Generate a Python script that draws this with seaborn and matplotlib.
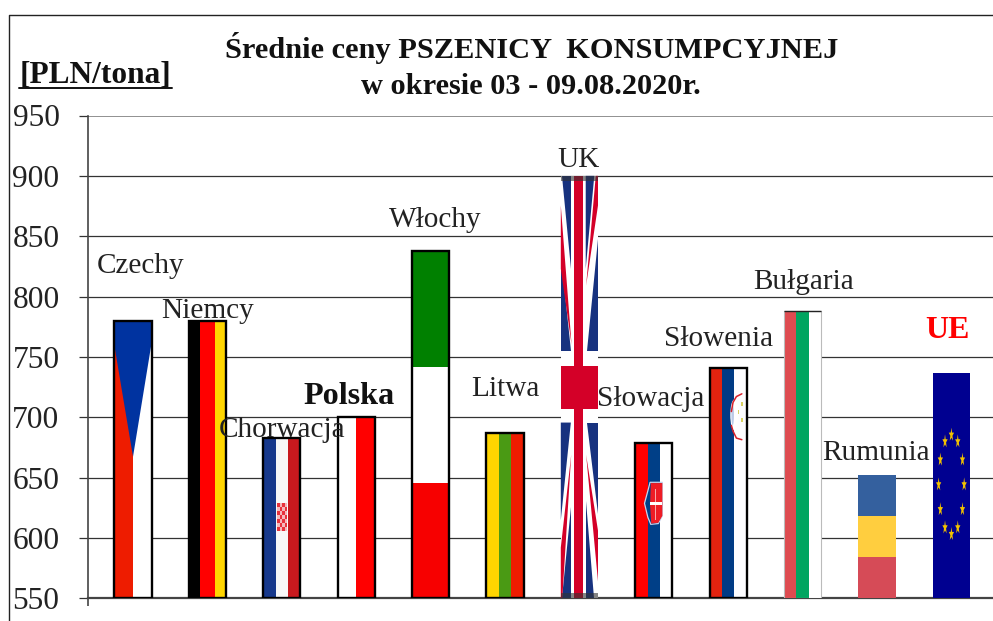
import numpy as np
import matplotlib
matplotlib.use('Agg')
import matplotlib.pyplot as plt
import matplotlib.transforms as mtrans
from matplotlib.patches import Polygon, Rectangle, Ellipse
from matplotlib.lines import Line2D
import seaborn as sns

# Data
countries = ['Czechy', 'Niemcy', 'Chorwacja', 'Polska', 'Włochy', 'Litwa', 'UK',
             'Słowacja', 'Słowenia', 'Bułgaria', 'Rumunia', 'UE']
prices = [780, 780, 683, 700, 837.5, 687, 900, 679, 741, 788, 652, 737]
y_ticks = [550, 600, 650, 700, 750, 800, 850, 900, 950]
unit_label = '[PLN/tona]'
title_lines = ['Średnie ceny PSZENICY  KONSUMPCYJNEJ', 'w okresie 03 - 09.08.2020r.']

W, H = 993, 621

sns.set_theme(style='ticks')
plt.rcParams['font.family'] = ['Liberation Serif', 'DejaVu Serif']

fig = plt.figure(figsize=(W / 100, H / 100), dpi=100, facecolor='white')
ax = fig.add_axes([88 / W, 1 - 598.3 / H, (W - 88) / W, (598.3 - 115.5) / H])

sns.barplot(x=countries, y=prices, width=0.5, color='white', linewidth=0, saturation=1, ax=ax)

left = -45 / 74.4
ax.set_xlim(left, (W - 133) / 74.4)
ax.set_ylim(y_ticks[0], y_ticks[-1])
ax.set_xlabel('')
ax.set_ylabel('')
ax.set_yticks(y_ticks)
ax.set_xticks([left])
ax.set_xticklabels([''])
ax.tick_params(axis='y', length=6.5, width=0.9, color='#333333', pad=14, labelsize=22.6, labelcolor='#222222')
ax.tick_params(axis='x', length=6, width=1.2, color='#444444')
ax.grid(axis='y', color='#333333', lw=0.9)
ax.set_axisbelow(True)
ax.get_ygridlines()[-1].set_color('#888888')
ax.get_ygridlines()[-1].set_linewidth(1.3)
sns.despine(ax=ax, top=True, right=True)
ax.spines['left'].set_color('#444444')
ax.spines['left'].set_linewidth(1.2)
ax.spines['bottom'].set_color('#444444')
ax.spines['bottom'].set_linewidth(1.6)


def unit_trans(bar):
    # unit square of one bar (u across, v up) -> data
    x0 = bar.get_x()
    base = ax.get_ylim()[0]
    return mtrans.Affine2D().scale(bar.get_width(), bar.get_height() - base).translate(x0, base) + ax.transData


def rect(tr, u0, u1, v0, v1, col, alpha=1, z=3):
    ax.add_patch(Rectangle((u0, v0), u1 - u0, v1 - v0, transform=tr, fc=col, ec='none', alpha=alpha, zorder=z))


def poly(tr, pts, col, z=3.2, ec='none', lw=0):
    ax.add_patch(Polygon(pts, closed=True, transform=tr, fc=col, ec=ec, lw=lw, zorder=z))


def vstripes(tr, cols, cuts=None):
    cuts = cuts or np.linspace(0, 1, len(cols) + 1)
    for i, c in enumerate(cols):
        rect(tr, cuts[i], cuts[i + 1], 0, 1, c)


def hstripes(tr, cols):
    cuts = np.linspace(1, 0, len(cols) + 1)
    for i, c in enumerate(cols):
        rect(tr, 0, 1, cuts[i + 1], cuts[i], c)


bars = dict(zip(countries, ax.patches))

# Czechy
tr = unit_trans(bars['Czechy'])
vstripes(tr, ['#EE1C00', '#FFFFFF'])
poly(tr, [(0, 1), (1, 1), (1, .92), (.5, .51), (0, .91)], '#0033A0')

# Niemcy
tr = unit_trans(bars['Niemcy'])
vstripes(tr, ['#000000', '#FF0000', '#FFD500'], [0, .31, .71, 1])

# Chorwacja
tr = unit_trans(bars['Chorwacja'])
vstripes(tr, ['#17398C', '#F8F8F8', '#C8191E'])
for i in range(4):
    for j in range(7):
        col = '#E8323C' if (i + j) % 2 == 0 else '#F4B9BC'
        rect(tr, .38 + i * .0675, .38 + (i + 1) * .0675, .417 + j * .0253, .417 + (j + 1) * .0253, col, z=3.2)

# Polska
tr = unit_trans(bars['Polska'])
vstripes(tr, ['#FFFFFF', '#FF0000'])

# Włochy
tr = unit_trans(bars['Włochy'])
hstripes(tr, ['#008000', '#FFFFFF', '#F70000'])

# Litwa
tr = unit_trans(bars['Litwa'])
vstripes(tr, ['#FFD500', '#4A9A14', '#EE1C00'])

# UK
tr = unit_trans(bars['UK'])
blue, red = '#17327F', '#D40028'
rect(tr, 0, 1, 0, 1, '#FFFFFF')
for pts in [[(.04, 1), (.27, 1), (.27, .78)], [(0, .81), (0, .585), (.27, .585)],
            [(.67, 1), (.9, 1), (.67, .78)], [(1, .85), (1, .585), (.70, .585)],
            [(0, .416), (.27, .416), (0, .185)], [(.27, .216), (.27, 0), (.04, 0)],
            [(.70, .416), (1, .416), (1, .2)], [(.67, .23), (.67, 0), (.9, 0)]]:
    poly(tr, pts, blue)
for pts in [[(0, .93), (.29, .60), (0, .78)], [(.94, 1), (1, 1), (1, .93), (.68, .74)],
            [(.28, .34), (.04, 0), (0, 0), (0, .12)], [(.68, .34), (1, .16), (1, .04)]]:
    poly(tr, pts, red, z=3.3)
rect(tr, .36, .59, 0, 1, red, z=3.4)
rect(tr, 0, 1, .449, .549, red, z=3.4)
rect(tr, 0, 1, .988, 1, '#333333', alpha=.6, z=3.5)
rect(tr, 0, 1, 0, .012, '#333333', alpha=.6, z=3.5)

# Słowacja
tr = unit_trans(bars['Słowacja'])
vstripes(tr, ['#FF0000', '#003F87', '#FFFFFF'])
poly(tr, [(.40, .745), (.73, .745), (.73, .53), (.62, .48), (.42, .475), (.34, .52), (.25, .61), (.34, .69)],
     '#003F87', ec='#C8D4EC', lw=0.9)
poly(tr, [(.42, .74), (.73, .74), (.73, .53), (.62, .485), (.43, .48), (.40, .60)], '#EE1C25', z=3.3)
rect(tr, .53, .55, .50, .70, '#F8A8A8', z=3.4)
rect(tr, .66, .68, .50, .70, '#F8A8A8', z=3.4)
rect(tr, .40, .73, .60, .62, '#FFFFFF', z=3.45)

# Słowenia
tr = unit_trans(bars['Słowenia'])
vstripes(tr, ['#E2230F', '#003A85', '#FDFDFF'])
ax.add_patch(Ellipse((.665, .795), .22, .135, transform=tr, fc='#FFFFFF', ec='none', zorder=3.2))
ax.add_patch(Ellipse((.62, .795), .07, .09, transform=tr, fc='#BCCBE8', ec='none', zorder=3.25))
ax.plot([.867, .72, .63, .585], [.887, .875, .85, .81], transform=tr, color='#D8202A', lw=1.1, zorder=3.4)
ax.plot([.585, .63, .72, .867], [.75, .725, .695, .688], transform=tr, color='#D8202A', lw=1.1, zorder=3.4)
rect(tr, .85, .89, .835, .85, '#D8D060', z=3.4)
rect(tr, .85, .89, .765, .78, '#D8D060', z=3.4)
rect(tr, .76, .80, .80, .815, '#D8D060', z=3.4)

# Bułgaria
tr = unit_trans(bars['Bułgaria'])
vstripes(tr, ['#DE4B50', '#00A560', '#FFFFFF'])

# Rumunia
tr = unit_trans(bars['Rumunia'])
hstripes(tr, ['#34609E', '#FFCE3F', '#D64B57'])

# UE
tr = unit_trans(bars['UE'])
rect(tr, 0, 1, 0, 1, '#000090')
for k in range(12):
    a = np.radians(30 * k)
    cu, cv = .5 + .343 * np.sin(a), .504 + .22 * np.cos(a)
    angs = np.radians(90 + 36 * np.arange(10))
    rad = np.where(np.arange(10) % 2 == 0, 1, .4)
    pts = np.column_stack([cu + .075 * rad * np.cos(angs), cv + .032 * rad * np.sin(angs)])
    poly(tr, pts, '#F2C200')

# outlines
for name, bar in bars.items():
    tr = unit_trans(bar)
    if name in ('UK', 'Rumunia', 'UE'):
        continue
    if name == 'Bułgaria':
        ax.add_patch(Rectangle((0, 0), 1, 1, transform=tr, fill=False, ec='#BBBBBB', lw=0.8, zorder=4))
        ax.plot([0, 1], [1, 1], transform=tr, color='#222222', lw=1.0, zorder=4.1, solid_capstyle='butt')
    else:
        ax.add_patch(Rectangle((0, 0), 1, 1, transform=tr, fill=False, ec='black', lw=1.7, zorder=4))


def px_text(x, y, s, size=21.1, weight='normal', color='#222222', ha='center'):
    fig.text(x / W, 1 - y / H, s, fontsize=size, fontweight=weight, color=color, ha=ha, va='center', zorder=6)


# country labels
label_pos = {'Czechy': (141, 266), 'Niemcy': (208, 311), 'Chorwacja': (282, 430), 'Włochy': (435, 220),
             'Litwa': (505, 389), 'UK': (579, 160), 'Słowacja': (651, 399), 'Słowenia': (719, 339),
             'Bułgaria': (804, 282), 'Rumunia': (876, 453)}
for name, (x, y) in label_pos.items():
    px_text(x, y, name)
px_text(349.5, 396, 'Polska', size=23.2, weight='bold', color='#111111')
px_text(947.5, 331, 'UE', size=23, weight='bold', color='#FF0000')

# title + unit
px_text(532, 48, title_lines[0], size=21.9, weight='bold', color='#111111')
px_text(531, 86, title_lines[1], size=21.9, weight='bold', color='#111111')
px_text(20, 75, unit_label, size=22.6, weight='bold', color='#111111', ha='left')
fig.add_artist(Line2D([19 / W, 172 / W], [1 - 87.5 / H] * 2, color='#111111', lw=1.4))

# outer frame of the picture
fig.add_artist(Line2D([8.5 / W, 8.5 / W, 1], [0, 1 - 14.5 / H, 1 - 14.5 / H], color='#222222', lw=1.0))

fig.savefig('out.png', dpi=100, facecolor='white')
